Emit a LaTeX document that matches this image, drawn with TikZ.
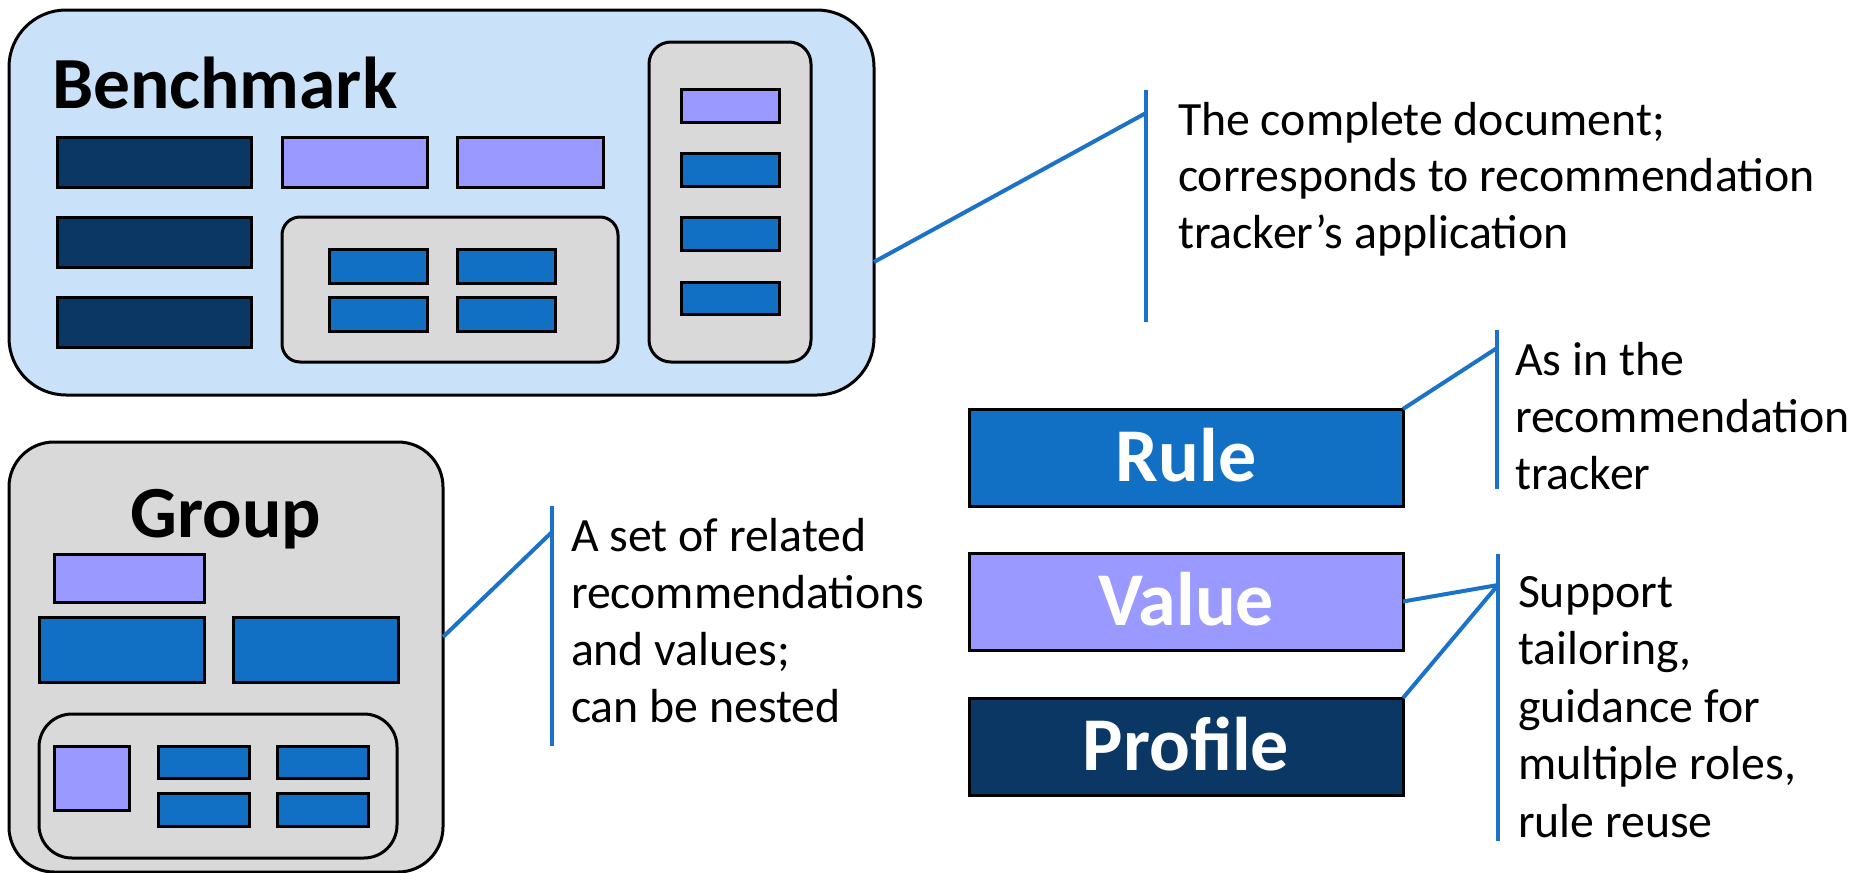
\documentclass[tikz,border=0pt]{standalone}
\usepackage{fontspec}
\setmainfont{Carlito}
\definecolor{benchfill}{HTML}{C9E2F9}
\definecolor{grayfill}{HTML}{D9D9D9}
\definecolor{navy}{HTML}{0A3764}
\definecolor{midblue}{HTML}{1170C4}
\definecolor{lav}{HTML}{9999FF}
\definecolor{connc}{HTML}{1A72CA}
\tikzset{
  every node/.style={inner sep=0pt, outer sep=0pt},
  frame/.style={draw=black, line width=3pt},
  benchbox/.style={frame, fill=benchfill, rounded corners=57pt},
  groupbox/.style={frame, fill=grayfill, rounded corners=45pt},
  graybox/.style={frame, fill=grayfill},
  navyrect/.style={frame, fill=navy},
  bluerect/.style={frame, fill=midblue},
  lavrect/.style={frame, fill=lav},
  conn/.style={draw=connc, line width=4pt},
  title/.style={font=\fontsize{73.5}{88}\bfseries\selectfont},
  kind/.style={frame, anchor=north west, minimum width=434pt, minimum height=97pt,
    text=white, text height=48pt, text depth=0pt, font=\fontsize{76}{90}\bfseries\selectfont},
  desc/.style={anchor=base west, align=left}
}
\begin{document}
\begin{tikzpicture}[x=1pt,y=-1pt]
\useasboundingbox (0,0) rectangle (1864,873);
% Benchmark
\node[benchbox, anchor=north west, minimum width=865pt, minimum height=385pt] (bench) at (9,10) {};
\node[title, anchor=base west] (benchtitle) at (52,108) {Benchmark};
\draw[navyrect] (57,137) rectangle (251,187);
\draw[navyrect] (57,217) rectangle (251,267);
\draw[navyrect] (57,297) rectangle (251,347);
\draw[lavrect] (282,137) rectangle (427,187);
\draw[lavrect] (457,137) rectangle (603,187);
\draw[graybox, rounded corners=18pt] (282,217) rectangle (618,362);
\draw[bluerect] (329,249) rectangle (427,283);
\draw[bluerect] (329,297) rectangle (427,331);
\draw[bluerect] (457,249) rectangle (555,283);
\draw[bluerect] (457,297) rectangle (555,331);
\draw[graybox, rounded corners=22pt] (649,42) rectangle (811,362);
\draw[lavrect] (681,89) rectangle (779,122);
\draw[bluerect] (681,153) rectangle (779,186);
\draw[bluerect] (681,217) rectangle (779,250);
\draw[bluerect] (681,282) rectangle (779,314);
% Group
\node[groupbox, anchor=north west, minimum width=434pt, minimum height=430pt] (group) at (9,442) {};
\node[title, anchor=base] (grouptitle) at (226,537) {Group};
\draw[lavrect] (54,554) rectangle (204,602);
\draw[bluerect] (39,617) rectangle (204,682);
\draw[bluerect] (233,617) rectangle (398,682);
\draw[graybox, rounded corners=33pt] (39,714) rectangle (397,858);
\draw[lavrect] (54,746) rectangle (129,810);
\draw[bluerect] (158,746) rectangle (249,778);
\draw[bluerect] (158,793) rectangle (249,826);
\draw[bluerect] (277,746) rectangle (368,778);
\draw[bluerect] (277,793) rectangle (368,826);
% Rule / Value / Profile
\node[kind, fill=midblue] (rule) at (969,409) {Rule};
\node[kind, fill=lav] (value) at (969,553) {Value};
\node[kind, fill=navy] (profile) at (969,698) {Profile};
% Descriptions
\node[desc] (tbench) at (1178,135) {\fontsize{47.8}{56.7}\selectfont\vtop{\hbox{The complete document;}\hbox{corresponds to recommendation}\hbox{tracker’s application}}};
\node[desc] (tgroup) at (571,551) {\fontsize{47.8}{57.3}\selectfont\vtop{\hbox{A set of related}\hbox{recommendations}\hbox{and values;}\hbox{can be nested}}};
\node[desc] (trule) at (1515,375) {\fontsize{47.8}{57}\selectfont\vtop{\hbox{As in the}\hbox{recommendation}\hbox{tracker}}};
\node[desc] (tvp) at (1518,607) {\fontsize{47.8}{57.5}\selectfont\vtop{\hbox{Support}\hbox{tailoring,}\hbox{guidance for}\hbox{multiple roles,}\hbox{rule reuse}}};
% Callout bars and connectors
\coordinate (b1t) at (1146,90);
\coordinate (b1b) at (1146,322);
\coordinate (b1j) at (1146,113);
\draw[conn] (b1t) -- (b1b);
\draw[conn] (bench.east |- 0,262) -- (b1j);
\coordinate (g1t) at (552,506);
\coordinate (g1b) at (552,746);
\coordinate (g1j) at (552,532);
\draw[conn] (g1t) -- (g1b);
\draw[conn] (group.east |- 0,637) -- (g1j);
\coordinate (r1t) at (1497,330);
\coordinate (r1b) at (1497,489);
\coordinate (r1j) at (1497,348);
\draw[conn] (r1t) -- (r1b);
\draw[conn] (rule.north east) -- (r1j);
\coordinate (p1t) at (1498,554);
\coordinate (p1b) at (1498,841);
\coordinate (p1j) at (1498,585);
\draw[conn] (p1t) -- (p1b);
\draw[conn] (value.east) -- (p1j);
\draw[conn] (profile.north east) -- (p1j);
\end{tikzpicture}
\end{document}
